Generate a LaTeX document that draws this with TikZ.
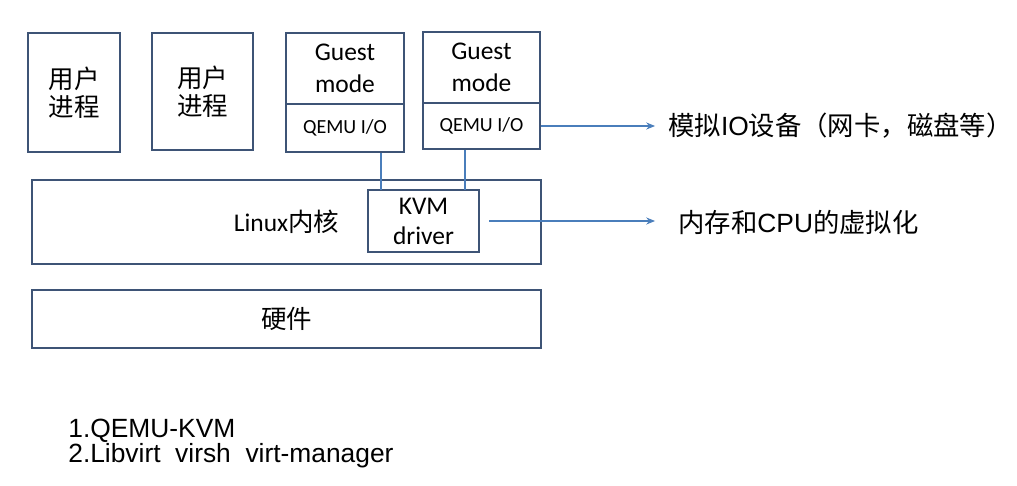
\documentclass[tikz,border=0pt]{standalone}
\usepackage{fontspec}
\setmainfont{Carlito}
\newfontfamily\cjk{Noto Sans CJK SC}
\newfontfamily\arial{Liberation Sans}
\usetikzlibrary{arrows.meta}
\definecolor{boxline}{RGB}{62,84,118}
\definecolor{linkblue}{RGB}{74,126,187}
\begin{document}
\begin{tikzpicture}[x=0.02cm,y=-0.02cm,
    box/.style={draw=boxline,line width=1.6pt,align=center,inner sep=0pt,font=\fontsize{14.5}{17}\selectfont},
    proc/.style={box,font=\cjk\fontsize{14.5}{16}\selectfont},
    guest/.style={box,font=\fontsize{14.5}{18.5}\selectfont},
    qio/.style={box,font=\fontsize{11.4}{13}\selectfont},
    link/.style={draw=linkblue,line width=0.6pt},
    arr/.style={link,-{Stealth[length=5pt,width=4pt]}},
    lbl/.style={anchor=west,inner sep=0pt,font=\fontsize{15}{17}\selectfont}]
  \useasboundingbox (0,0) rectangle (1017,486);
  % user processes
  \node[proc,minimum width=1.84cm,minimum height=2.38cm] (p1) at (74,92.5) {用户\\进程};
  \node[proc,minimum width=2.02cm,minimum height=2.34cm] (p2) at (202.5,91.5) {用户\\进程};
  % guests
  \node[guest,minimum width=2.36cm,minimum height=1.42cm] (g1) at (345,68.5) {Guest\\mode};
  \node[qio,minimum width=2.36cm,minimum height=0.96cm] (io1) at (345,128) {QEMU I/O};
  \node[guest,minimum width=2.34cm,minimum height=1.42cm] (g2) at (481.5,67.5) {Guest\\mode};
  \node[qio,minimum width=2.34cm,minimum height=0.92cm] (io2) at (481.5,126) {QEMU I/O};
  % kernel and hardware
  \node[box,minimum width=10.18cm,minimum height=1.68cm] (os) at (286.5,222) {Linux{\cjk 内核}};
  \node[box,fill=white,minimum width=2.22cm,minimum height=1.24cm] (kvm) at (423.5,221) {KVM\\driver};
  \node[box,minimum width=10.18cm,minimum height=1.16cm] (hw) at (286.5,319) {\cjk 硬件};
  \coordinate (t1) at (381,190);
  \coordinate (t2) at (465,190);
  \draw[link] (io1.south -| t1) -- (t1);
  \draw[link] (io2.south -| t2) -- (t2);
  % side notes
  \node[lbl,inner xsep=0.26cm] (dev) at (655,126) {{\cjk 模拟}{\arial IO}{\cjk 设备（网卡，磁盘等）}};
  \node[lbl,inner xsep=0.46cm] (mem) at (655,222) {{\cjk 内存和}{\arial CPU}{\cjk 的虚拟化}};
  \draw[arr] (io2.east) -- (io2.east -| dev.west);
  \draw[arr,shorten <=0.18cm] (kvm.east) -- (kvm.east -| mem.west);
  % notes below
  \node[anchor=base west,inner sep=0pt,font=\arial\fontsize{15}{17}\selectfont] (n1) at (68,437) {1.QEMU-KVM};
  \node[anchor=base west,inner sep=0pt,font=\arial\fontsize{15}{17}\selectfont] (n2) at (68,462) {2.Libvirt\ \ virsh\ \ virt-manager};
\end{tikzpicture}
\end{document}
